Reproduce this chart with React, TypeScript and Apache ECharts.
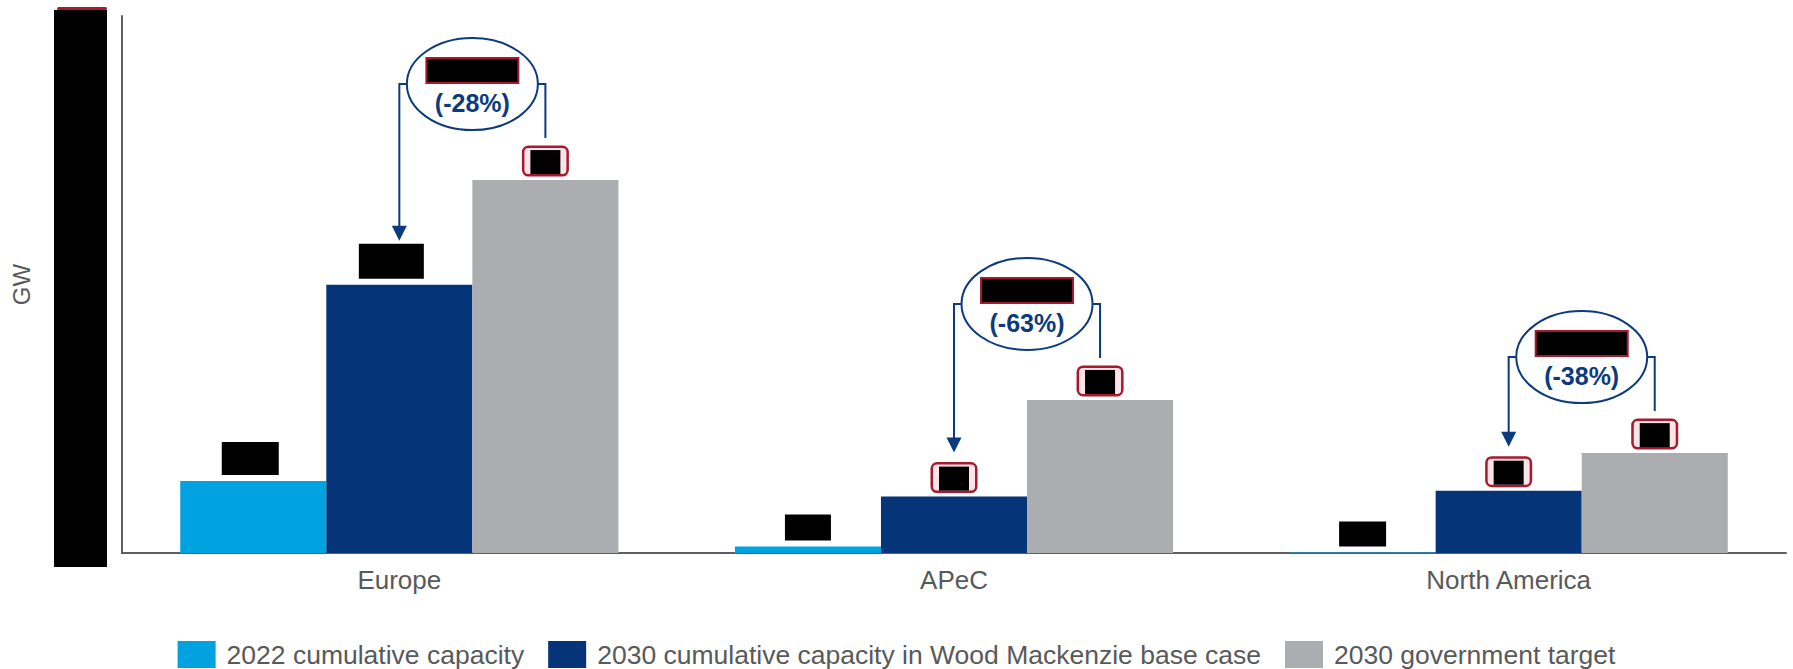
import React, { useEffect, useRef } from "react";
import * as echarts from "echarts";

const categories = ["Europe", "APeC", "North America"];
const seriesNames = [
  "2022 cumulative capacity",
  "2030 cumulative capacity in Wood Mackenzie base case",
  "2030 government target",
];
const cap2022 = [26.8, 2.4, 0.2];
const base2030 = [99.9, 21.0, 23.2];
const target2030 = [138.9, 57.0, 37.2];
const gapLabels = ["(-28%)", "(-63%)", "(-38%)"];
const yMax = 200;

const FONT = "'Liberation Sans', Arial, sans-serif";
const TEXT = "#58595b";
const NAVY = "#0b3a7e";
const RED = "#a6192e";
const COLORS = ["#00a3e0", "#063478", "#acadb1"];

// redaction box styles for value labels (per series, per category)
const plain = (w: number, h: number, dx = 0) => ({ kind: "plain", w, h, dx });
const framed = { kind: "framed", w: 30, h: 24, dx: 0 };
const labelBoxes = [
  [plain(57, 33, -3), plain(46, 26), plain(47, 25)],
  [plain(65, 35, -8), framed, framed],
  [framed, framed, framed],
];

function labelFor(box: any) {
  if (box.kind === "plain") {
    return {
      show: true,
      position: "top",
      distance: 6,
      offset: [box.dx, 0],
      formatter: "{k|}",
      rich: { k: { backgroundColor: "#000", width: box.w, height: box.h } },
    };
  }
  return {
    show: true,
    position: "top",
    distance: 6,
    offset: [box.dx, 0],
    formatter: "{k|}",
    backgroundColor: "#fbe3e7",
    borderColor: RED,
    borderWidth: 2.5,
    borderRadius: 4,
    padding: [2, 6, 0, 6],
    rich: { k: { backgroundColor: "#000", width: box.w, height: box.h } },
  };
}

export default function App() {
  const ref = useRef<HTMLDivElement>(null);
  useEffect(() => {
    if (!ref.current) return;
    const chart = echarts.init(ref.current, null, { renderer: "svg" });
    const valueSets = [cap2022, base2030, target2030];
    const barSeries = valueSets.map((vals, si) => ({
      name: seriesNames[si],
      type: "bar",
      barGap: "0%",
      barCategoryGap: "21%",
      itemStyle: { color: COLORS[si] },
      data: vals.map((v, ci) => ({ value: v, label: labelFor(labelBoxes[si][ci]) })),
    }));
    const annData = categories.map((_, i) => [i, base2030[i], target2030[i]]);
    const annSeries = {
      type: "custom",
      name: "gap",
      z: 10,
      silent: true,
      clip: false,
      encode: { x: 0, y: 1 },
      data: annData,
      renderItem: (params: any, api: any) => {
        const i = api.value(0);
        const dark = api.value(1);
        const gray = api.value(2);
        const c = api.coord([i, 0]);
        const barW = (api.size([1, 0])[0] * 0.79) / 3;
        const darkX = c[0];
        const grayX = c[0] + barW;
        const darkTop = api.coord([i, dark])[1];
        const grayTop = api.coord([i, gray])[1];
        const ex = (darkX + grayX) / 2;
        const cy = grayTop - 96;
        const rx = 65.5;
        const ry = 46;
        const tipY = darkTop - 44;
        const lineStyle = { stroke: NAVY, lineWidth: 2, fill: null };
        return {
          type: "group",
          children: [
            {
              type: "polyline",
              shape: { points: [[ex - rx, cy], [darkX, cy], [darkX, tipY - 14]] },
              style: lineStyle,
            },
            {
              type: "polygon",
              shape: { points: [[darkX - 7.5, tipY - 15], [darkX + 7.5, tipY - 15], [darkX, tipY]] },
              style: { fill: NAVY },
            },
            {
              type: "polyline",
              shape: { points: [[ex + rx, cy], [grayX, cy], [grayX, grayTop - 42]] },
              style: lineStyle,
            },
            {
              type: "ellipse",
              shape: { cx: ex, cy: cy, rx, ry },
              style: { fill: "#fff", stroke: NAVY, lineWidth: 2 },
            },
            {
              type: "rect",
              shape: { x: ex - 46, y: cy - 26, width: 92, height: 25 },
              style: { fill: "#000", stroke: RED, lineWidth: 2 },
            },
            {
              type: "text",
              style: {
                text: gapLabels[params.dataIndex],
                x: ex,
                y: cy + 19,
                fill: NAVY,
                fontSize: 25,
                fontWeight: "bold",
                fontFamily: FONT,
                align: "center",
                verticalAlign: "middle",
              },
            },
          ],
        };
      },
    };
    chart.setOption({
      animation: false,
      textStyle: { fontFamily: FONT },
      grid: { left: 122, right: 7, top: 16, bottom: 116, containLabel: false },
      legend: {
        data: seriesNames,
        top: 641,
        left: "center",
        itemWidth: 38,
        itemHeight: 27,
        itemGap: 24,
        padding: 0,
        icon: "rect",
        textStyle: { fontSize: 26.5, color: TEXT, fontFamily: FONT, padding: [0, 0, 0, 6] },
      },
      xAxis: {
        type: "category",
        data: categories,
        axisLine: { lineStyle: { color: "#5f5f63", width: 2 } },
        axisTick: { show: false },
        axisLabel: { fontSize: 26, color: TEXT, margin: 14, fontFamily: FONT },
      },
      yAxis: {
        type: "value",
        min: 0,
        max: yMax,
        name: "GW",
        nameLocation: "middle",
        nameRotate: 90,
        nameGap: 89,
        nameTextStyle: { fontSize: 24, color: TEXT, fontFamily: FONT },
        axisLine: { show: true, lineStyle: { color: "#5f5f63", width: 2 } },
        axisTick: { show: false },
        axisLabel: { show: false },
        splitLine: { show: false },
      },
      graphic: [
        { type: "rect", left: 54, top: 10, shape: { width: 53, height: 557 }, style: { fill: "#000" }, z: 100 },
        { type: "rect", left: 57, top: 7, shape: { width: 50, height: 3, r: 1.5 }, style: { fill: RED }, z: 100 },
      ],
      series: [...barSeries, annSeries],
    });
    return () => chart.dispose();
  }, []);
  return (
    <div
      ref={ref}
      style={{ position: "fixed", left: 0, top: 0, width: 1793, height: 669, background: "#fff" }}
    />
  );
}
